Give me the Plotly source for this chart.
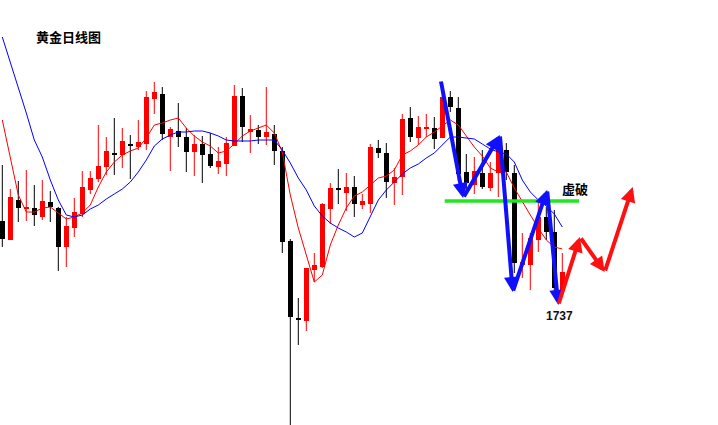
import plotly.graph_objects as go

# ---- data (gold daily, price units) ----
opens = [1816,1797,1837,1828,1829,1820,1835,1829,1790,1809,1823,1847,1858,1870,1884,1882,1893,1890,1893,1938,
         1943,1900,1906,1900,1885,1893,1883,1870,1873,1891,1941,1905,1907,1900,1903,1886,1796,1719,1716,1767,
         1770,1828,1849,1844,1850,1832,1833,1889,1884,1854,1860,1919,1899,1908,1909,1899,1940,1929,1865,1852,
         1864,1849,1864,1887,1864,1772,1772,1797,1820,1805,1747]
highs = [1872,1848,1856,1867,1852,1857,1846,1830,1820,1839,1866,1866,1912,1900,1919,1909,1902,1917,1946,1955,
         1950,1910,1934,1909,1902,1901,1904,1890,1900,1952,1949,1922,1912,1950,1912,1890,1798,1739,1769,1784,
         1834,1854,1868,1864,1861,1843,1893,1897,1894,1869,1923,1930,1921,1923,1920,1947,1946,1940,1883,1880,
         1887,1875,1896,1894,1872,1804,1804,1834,1830,1827,1784]
lows = [1790,1797,1815,1816,1811,1817,1815,1766,1770,1800,1820,1843,1855,1862,1862,1869,1858,1887,1887,1923,
        1897,1866,1890,1865,1861,1854,1869,1863,1861,1891,1895,1884,1893,1892,1872,1784,1612,1692,1706,1755,
        1769,1813,1833,1826,1820,1828,1824,1879,1839,1832,1842,1895,1892,1900,1888,1899,1925,1856,1845,1843,
        1848,1846,1840,1857,1764,1759,1747,1785,1797,1744,1745]
closes = [1798,1840,1829,1829,1822,1836,1830,1790,1811,1825,1850,1859,1871,1886,1882,1896,1891,1895,1940,1945,
          1903,1908,1900,1885,1893,1882,1871,1876,1894,1941,1910,1908,1900,1905,1886,1795,1720,1717,1769,1772,
          1833,1849,1847,1850,1833,1836,1890,1884,1855,1860,1918,1900,1910,1909,1898,1940,1930,1863,1854,1866,
          1850,1864,1889,1865,1774,1775,1799,1820,1805,1749,1765]
ma_red = [1917,1879,1842,1825,1825,1829,1830,1824,1818,1820,1824,1832,1850,1865,1875,1882,1886,1889,1899,1912,
          1914,1917,1919,1909,1901,1895,1891,1884,1886,1893,1901,1906,1909,1912,1904,1885,1842,1809,1782,1755,
          1762,1792,1812,1829,1841,1845,1852,1859,1861,1867,1882,1886,1892,1900,1905,1911,1917,1912,1901,1890,
          1881,1869,1865,1865,1849,1835,1822,1809,1797,1790,1788]
ma_blue = [2000,1975,1949,1924,1897,1880,1857,1837,1822,1820,1822,1828,1832,1838,1843,1848,1855,1865,1877,1891,
           1898,1902,1905,1905,1906,1906,1904,1901,1897,1896,1896,1896,1897,1897,1897,1887,1874,1859,1847,1831,
           1821,1814,1809,1805,1800,1804,1820,1837,1847,1855,1863,1869,1873,1879,1884,1892,1900,1900,1899,1898,
           1893,1888,1885,1883,1875,1857,1845,1837,1831,1823,1810]

# annotation paths (bar index, price)
blue_path_x = [54.8, 57.6, 62.2, 63.8, 68.1, 69.5]
blue_path_y = [1957, 1839, 1902, 1745, 1847, 1732]
red_path_x = [69.5, 72.2, 75.3, 78.8]
red_path_y = [1732, 1800, 1765, 1850]
support_x = [55.3, 72.1]
support_y = 1836
title_text = "黄金日线图"
break_text = "虚破"
low_text = "1737"

n = len(opens)
idx = list(range(n))
RED = "#ff0000"
BLACK = "#000000"

fig = go.Figure()

# wicks
for color, cond in ((RED, True), (BLACK, False)):
    wx, wy = [], []
    for i in idx:
        if (closes[i] >= opens[i]) == cond:
            wx += [i, i, None]
            wy += [lows[i], highs[i], None]
    fig.add_trace(go.Scatter(x=wx, y=wy, mode="lines", line=dict(color=color, width=1),
                             hoverinfo="skip", showlegend=False))

# bodies
bx, bbase, bh, bc = [], [], [], []
for i in idx:
    lo = min(opens[i], closes[i])
    hi = max(opens[i], closes[i])
    bx.append(i)
    bbase.append(lo)
    bh.append(max(hi - lo, 1.5))
    bc.append(RED if closes[i] >= opens[i] else BLACK)
fig.add_trace(go.Bar(x=bx, y=bh, base=bbase, width=0.62, marker=dict(color=bc, line=dict(width=0)),
                     showlegend=False))

# moving averages
fig.add_trace(go.Scatter(x=idx, y=ma_red, mode="lines", line=dict(color=RED, width=1), showlegend=False))
fig.add_trace(go.Scatter(x=idx, y=ma_blue, mode="lines", line=dict(color="#0000ff", width=1), showlegend=False))

# support line
fig.add_trace(go.Scatter(x=support_x, y=[support_y, support_y], mode="lines",
                         line=dict(color="#22e622", width=3.5), showlegend=False))

def add_path(px, py, color):
    for j in range(len(px) - 1):
        fig.add_annotation(x=px[j + 1], y=py[j + 1], ax=px[j], ay=py[j],
                           xref="x", yref="y", axref="x", ayref="y",
                           showarrow=True, arrowhead=2, arrowsize=0.75, arrowwidth=4,
                           arrowcolor=color, text="")

add_path(blue_path_x, blue_path_y, "#1010ff")
add_path(red_path_x, red_path_y, "#ff1010")

font_cjk = "Noto Sans CJK SC, sans-serif"
fig.add_annotation(x=0.095, y=0.915, xref="paper", yref="paper", xanchor="center", yanchor="middle",
                   text="<b>%s</b>" % title_text,
                   showarrow=False, font=dict(family=font_cjk, size=13, color="#000000"))
fig.add_annotation(x=71.6, y=1849, xref="x", yref="y", xanchor="center", yanchor="middle",
                   text="<b>%s</b>" % break_text,
                   showarrow=False, font=dict(family=font_cjk, size=13, color="#000000"))
fig.add_annotation(x=69.6, y=1721, xref="x", yref="y", xanchor="center", yanchor="middle",
                   text="<b>%s</b>" % low_text,
                   showarrow=False, font=dict(family="Liberation Sans, Arial, sans-serif", size=12, color="#111111"))

fig.update_layout(
    width=718, height=425,
    margin=dict(l=0, r=0, t=0, b=0),
    paper_bgcolor="white", plot_bgcolor="white",
    barmode="overlay", bargap=0,
    showlegend=False,
    xaxis=dict(range=[-0.2875, 89.4625], visible=False, fixedrange=True),
    yaxis=dict(range=[1612, 2037], visible=False, fixedrange=True),
)

fig.write_html("out.html", config={"displayModeBar": False},
               post_script="document.body.style.margin='0';")
